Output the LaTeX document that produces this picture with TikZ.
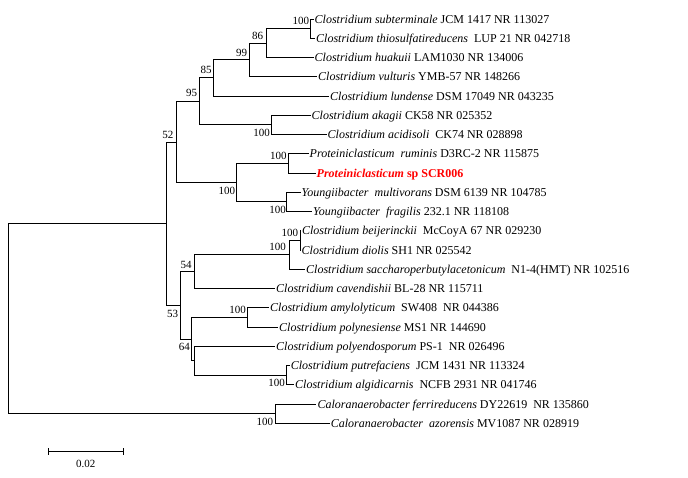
\documentclass[tikz,border=0pt]{standalone}
\usepackage{fontspec}
\setmainfont{Liberation Serif}
\definecolor{hlred}{RGB}{255,0,0}
\begin{document}
\begin{tikzpicture}[x=1pt,y=-1pt,
  branch/.style={line width=1pt,black},
  leaf/.style={anchor=base west,inner sep=0pt,xshift=1pt,yshift=-4pt,font=\fontsize{12}{14}\selectfont},
  bs/.style={anchor=east,inner sep=0pt,font=\fontsize{11}{13}\selectfont}]
\useasboundingbox (0,0) rectangle (688,477);
% leaf branch ends
\coordinate (l1) at (313.5,19);
\coordinate (l2) at (315,38.25);
\coordinate (l3) at (313.5,57.5);
\coordinate (l4) at (317,76.75);
\coordinate (l5) at (329,96);
\coordinate (l6) at (310.5,115.25);
\coordinate (l7) at (326.5,134.5);
\coordinate (l8) at (308.5,153.75);
\coordinate (l9) at (315.5,173);
\coordinate (l10) at (300.5,192.25);
\coordinate (l11) at (312,211.5);
\coordinate (l12) at (300.8,230.75);
\coordinate (l13) at (300.5,250);
\coordinate (l14) at (305,269.25);
\coordinate (l15) at (275,288.5);
\coordinate (l16) at (269,307.75);
\coordinate (l17) at (278,327);
\coordinate (l18) at (275,346.25);
\coordinate (l19) at (289.7,365.5);
\coordinate (l20) at (294,384.75);
\coordinate (l21) at (316.3,404);
\coordinate (l22) at (329.7,423.25);
% internal nodes
\coordinate (n100a) at (310.7,28.625);
\coordinate (n86) at (266.7,43.06);
\coordinate (n99) at (249.3,59.91);
\coordinate (n85) at (213.3,77.95);
\coordinate (n100i) at (271,124.875);
\coordinate (n95) at (199.3,101.41);
\coordinate (n100g) at (288.3,163.375);
\coordinate (n100h) at (286.7,201.875);
\coordinate (n100f) at (236.7,182.625);
\coordinate (n52) at (176,142.02);
\coordinate (n100c) at (300,240.375);
\coordinate (n100b) at (289.3,254.81);
\coordinate (n54) at (194.3,271.66);
\coordinate (n100d) at (247.7,317.375);
\coordinate (n100e) at (286.7,375.125);
\coordinate (nsub) at (194.3,360.69);
\coordinate (n64) at (191.7,339.03);
\coordinate (n53) at (180,305.34);
\coordinate (nA) at (166.7,223.68);
\coordinate (n100j) at (275,413.625);
\coordinate (root) at (8.3,318.65);
% branches
\draw[branch] (n100a) |- (l1); \draw[branch] (n100a) |- (l2);
\draw[branch] (n86) |- (n100a); \draw[branch] (n86) |- (l3);
\draw[branch] (n99) |- (n86); \draw[branch] (n99) |- (l4);
\draw[branch] (n85) |- (n99); \draw[branch] (n85) |- (l5);
\draw[branch] (n100i) |- (l6); \draw[branch] (n100i) |- (l7);
\draw[branch] (n95) |- (n85); \draw[branch] (n95) |- (n100i);
\draw[branch] (n100g) |- (l8); \draw[branch] (n100g) |- (l9);
\draw[branch] (n100h) |- (l10); \draw[branch] (n100h) |- (l11);
\draw[branch] (n100f) |- (n100g); \draw[branch] (n100f) |- (n100h);
\draw[branch] (n52) |- (n95); \draw[branch] (n52) |- (n100f);
\draw[branch] (n100c) |- (l12); \draw[branch] (n100c) |- (l13);
\draw[branch] (n100b) |- (n100c); \draw[branch] (n100b) |- (l14);
\draw[branch] (n54) |- (n100b); \draw[branch] (n54) |- (l15);
\draw[branch] (n100d) |- (l16); \draw[branch] (n100d) |- (l17);
\draw[branch] (n100e) |- (l19); \draw[branch] (n100e) |- (l20);
\draw[branch] (nsub) |- (l18); \draw[branch] (nsub) |- (n100e);
\draw[branch] (n64) |- (n100d); \draw[branch] (n64) |- (nsub);
\draw[branch] (n53) |- (n54); \draw[branch] (n53) |- (n64);
\draw[branch] (nA) |- (n52); \draw[branch] (nA) |- (n53);
\draw[branch] (n100j) |- (l21); \draw[branch] (n100j) |- (l22);
\draw[branch] (root) |- (nA); \draw[branch] (root) |- (n100j);
% leaf labels
\node[leaf] (t1) at (l1) {\textit{Clostridium subterminale} JCM 1417 NR 113027};
\node[leaf] (t2) at (l2) {\textit{Clostridium thiosulfatireducens}\ \ LUP 21 NR 042718};
\node[leaf] (t3) at (l3) {\textit{Clostridium huakuii} LAM1030 NR 134006};
\node[leaf] (t4) at (l4) {\textit{Clostridium vulturis} YMB-57 NR 148266};
\node[leaf] (t5) at (l5) {\textit{Clostridium lundense} DSM 17049 NR 043235};
\node[leaf] (t6) at (l6) {\textit{Clostridium akagii} CK58 NR 025352};
\node[leaf] (t7) at (l7) {\textit{Clostridium acidisoli}\ \ CK74 NR 028898};
\node[leaf] (t8) at (l8) {\textit{Proteiniclasticum\ \ ruminis} D3RC-2 NR 115875};
\node[leaf,text=hlred] (t9) at (l9) {\textbf{\textit{Proteiniclasticum} sp SCR006}};
\node[leaf] (t10) at (l10) {\textit{Youngiibacter\ \ multivorans} DSM 6139 NR 104785};
\node[leaf] (t11) at (l11) {\textit{Youngiibacter\ \ fragilis} 232.1 NR 118108};
\node[leaf] (t12) at (l12) {\textit{Clostridium beijerinckii}\ \ McCoyA 67 NR 029230};
\node[leaf] (t13) at (l13) {\textit{Clostridium diolis} SH1 NR 025542};
\node[leaf] (t14) at (l14) {\textit{Clostridium saccharoperbutylacetonicum}\ \ N1-4(HMT) NR 102516};
\node[leaf] (t15) at (l15) {\textit{Clostridium cavendishii} BL-28 NR 115711};
\node[leaf] (t16) at (l16) {\textit{Clostridium amylolyticum}\ \ SW408\ \ NR 044386};
\node[leaf] (t17) at (l17) {\textit{Clostridium polynesiense} MS1 NR 144690};
\node[leaf] (t18) at (l18) {\textit{Clostridium polyendosporum} PS-1\ \ NR 026496};
\node[leaf] (t19) at (l19) {\textit{Clostridium putrefaciens}\ \ JCM 1431 NR 113324};
\node[leaf] (t20) at (l20) {\textit{Clostridium algidicarnis}\ \ NCFB 2931 NR 041746};
\node[leaf] (t21) at (l21) {\textit{Caloranaerobacter ferrireducens} DY22619\ \ NR 135860};
\node[leaf] (t22) at (l22) {\textit{Caloranaerobacter\ \ azorensis} MV1087 NR 028919};
% bootstrap values
\node[bs] (b100a) at (309.3,20.7) {100};
\node[bs] (b86) at (263.3,35.7) {86};
\node[bs] (b99) at (247.3,52.7) {99};
\node[bs] (b85) at (211.7,70) {85};
\node[bs] (b95) at (197.3,93.3) {95};
\node[bs] (b52) at (173.5,134.5) {52};
\node[bs] (b100i) at (270,133.3) {100};
\node[bs] (b100g) at (286.7,156) {100};
\node[bs] (b100f) at (235.3,190.7) {100};
\node[bs] (b100h) at (286,210) {100};
\node[bs] (b100c) at (298.3,233.3) {100};
\node[bs] (b100b) at (286,246.7) {100};
\node[bs] (b54) at (191.7,265) {54};
\node[bs] (b53) at (178.3,314.3) {53};
\node[bs] (b100d) at (246,310) {100};
\node[bs] (b64) at (190,346.7) {64};
\node[bs] (b100e) at (285,383.3) {100};
\node[bs] (b100j) at (273.3,421.7) {100};
% scale bar
\coordinate (sb1) at (48.3,451.7);
\coordinate (sb2) at (123.3,451.7);
\draw[branch] (sb1) -- (sb2);
\draw[branch] ([yshift=3.5pt]sb1) -- ([yshift=-3.5pt]sb1);
\draw[branch] ([yshift=3.5pt]sb2) -- ([yshift=-3.5pt]sb2);
\node[font=\fontsize{11}{13}\selectfont,inner sep=0pt] (sblab) at (85.8,463.5) {0.02};
\end{tikzpicture}
\end{document}
